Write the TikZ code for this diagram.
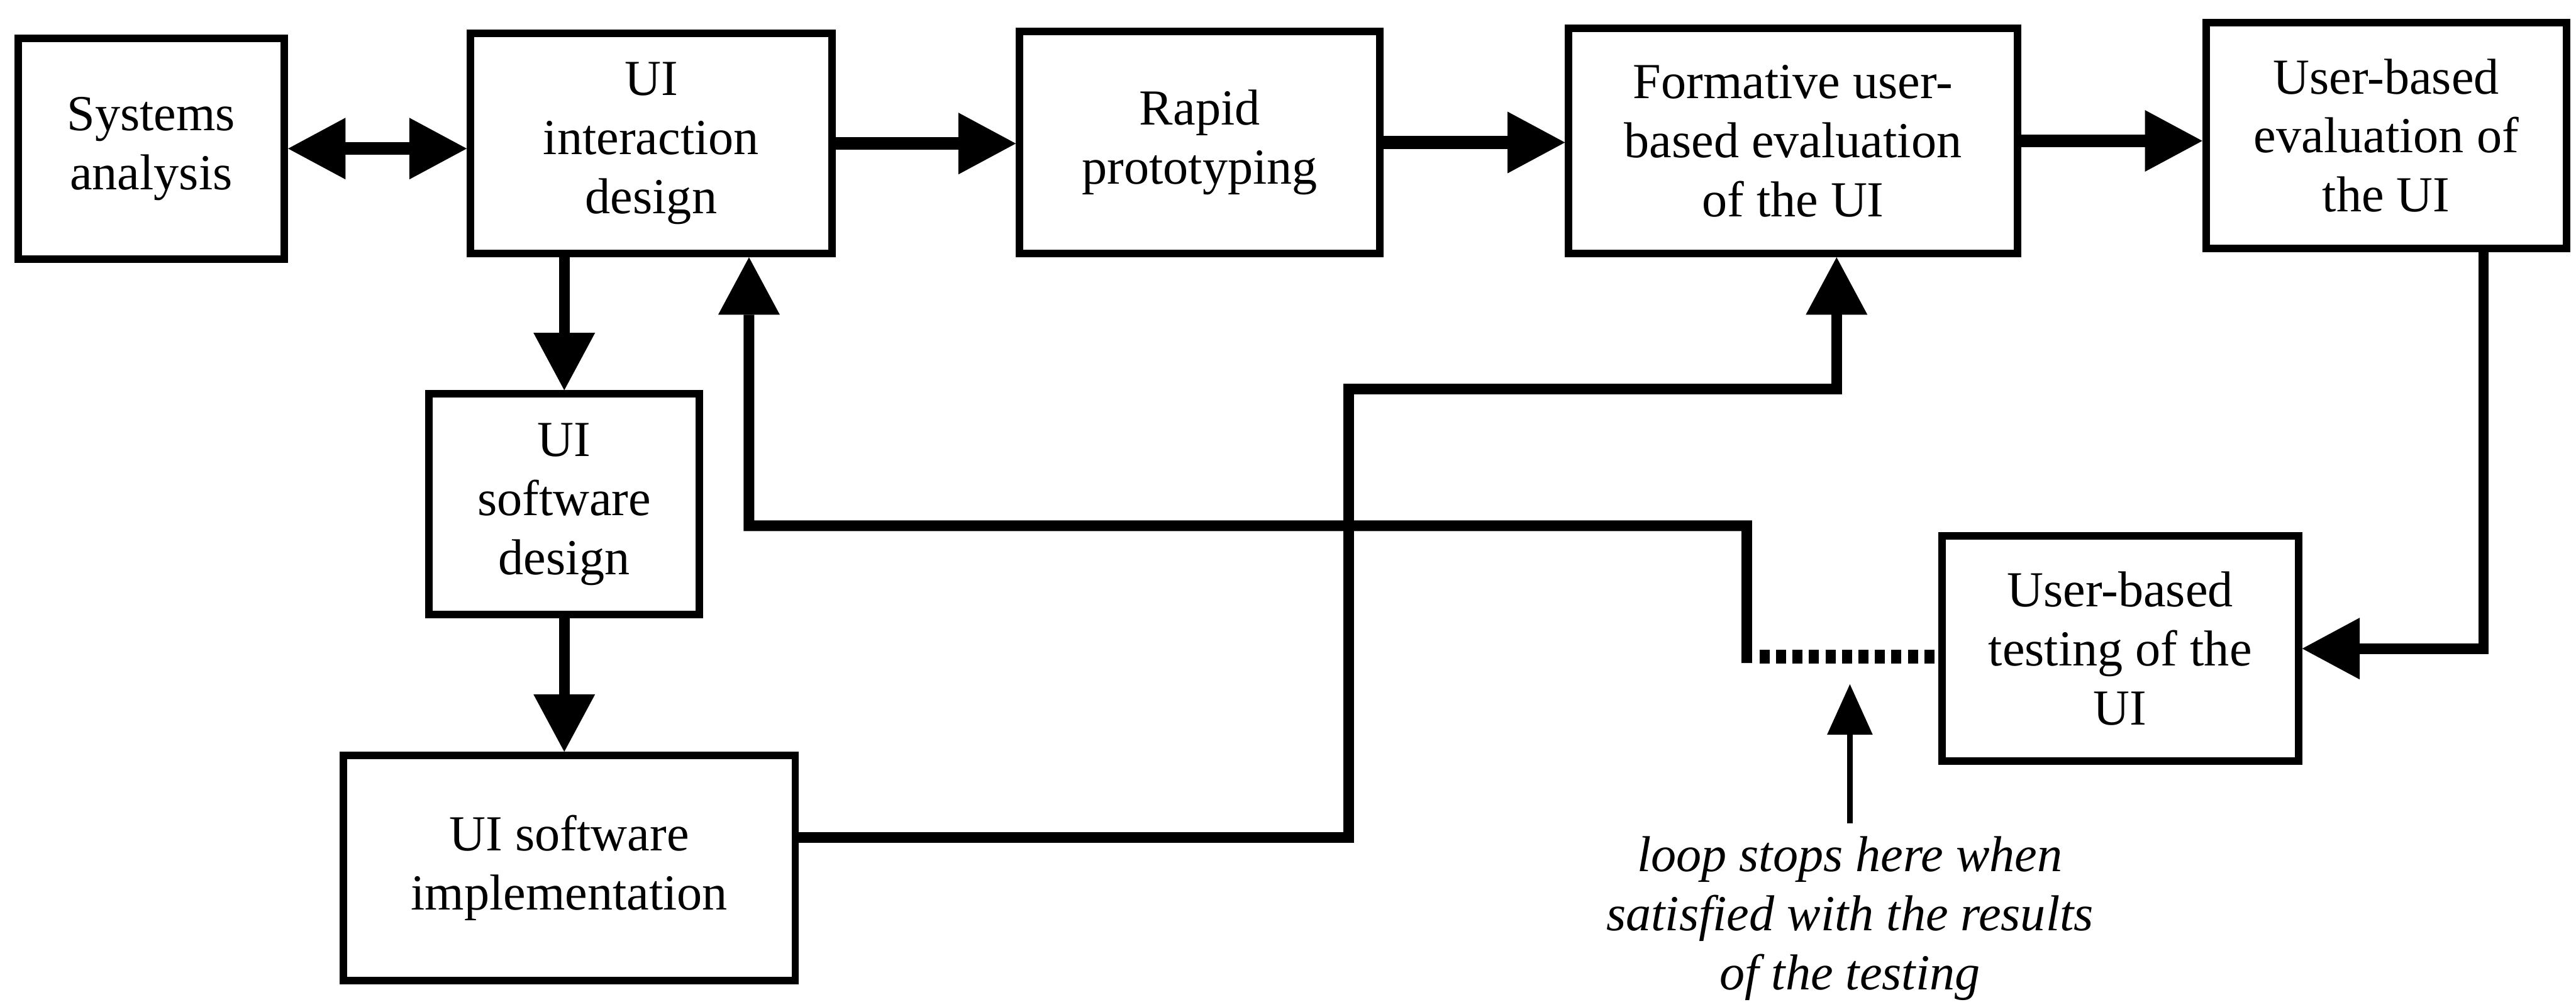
\documentclass[tikz,border=0pt]{standalone}
\usepackage{fontspec}
\setmainfont{Liberation Serif}
\usetikzlibrary{arrows.meta,calc}

\begin{document}
\begin{tikzpicture}[
  box/.style={draw, line width=0.14cm, align=center, inner sep=0pt,
              font=\fontsize{27}{31.6}\selectfont},
  conn/.style={line width=0.2cm, line join=miter},
  hconn/.style={line width=0.24cm},
  dotline/.style={line width=0.26cm, dash pattern=on 0.19cm off 0.12cm},
  note/.style={align=center, inner xsep=0pt, inner ysep=0.25cm,
               font=\fontsize{27}{31.6}\selectfont\itshape},
  bigarr/.tip={Triangle[length=1.08cm,width=1.16cm,line width=0pt]},
  smallarr/.tip={Triangle[length=0.95cm,width=0.86cm,line width=0pt]}
]
\useasboundingbox (0,0) rectangle (48.46,-18.94);

% process boxes
\node[box, minimum width=5.01cm, minimum height=4.15cm] (sys)    at (2.845,-2.795) {Systems\\analysis};
\node[box, minimum width=6.80cm, minimum height=4.14cm] (uiid)   at (12.25,-2.70)  {UI\\interaction\\design};
\node[box, minimum width=6.78cm, minimum height=4.18cm] (rapid)  at (22.57,-2.68)  {Rapid\\prototyping};
\node[box, minimum width=8.44cm, minimum height=4.24cm] (form)   at (33.73,-2.65)  {Formative user-\\based evaluation\\of the UI};
\node[box, minimum width=6.78cm, minimum height=4.24cm] (eval)   at (44.89,-2.55)  {User-based\\evaluation of\\the UI};
\node[box, minimum width=5.09cm, minimum height=4.15cm] (uisd)   at (10.615,-9.485){UI\\software\\design};
\node[box, minimum width=8.50cm, minimum height=4.23cm] (uiimpl) at (10.71,-16.325){UI software\\implementation};
\node[box, minimum width=6.71cm, minimum height=4.24cm] (test)   at (39.885,-12.20){User-based\\testing of the\\UI};

% annotation
\node[note] (note) at (34.80,-17.28) {loop stops here when\\satisfied with the results\\of the testing};

% bend points and free ends
\coordinate (fbin)    at ([xshift=1.84cm]uiid.south);
\coordinate (fbk)     at (14.09,-9.89);
\coordinate (loopx)   at (32.86,-12.47);
\coordinate (loopdot) at (32.86,-12.35);
\coordinate (implout) at ([yshift=0.575cm]uiimpl.east);
\coordinate (jb)      at (25.37,-7.32);
\coordinate (formin)  at ([xshift=0.82cm]form.south);
\coordinate (evout)   at ([xshift=1.83cm]eval.south);
\coordinate (stoptip) at (34.80,-12.87);

% main flow
\draw[hconn, {bigarr}-{bigarr}] (sys.east) -- (sys.east -| uiid.west);
\draw[hconn, -{bigarr}] (uiid.east) -- (uiid.east -| rapid.west);
\draw[hconn, -{bigarr}] (rapid.east) -- (rapid.east -| form.west);
\draw[hconn, -{bigarr}] (form.east) -- (form.east -| eval.west);
\draw[conn, -{bigarr}] (uisd.north |- uiid.south) -- (uisd.north);
\draw[conn, -{bigarr}] (uisd.south) -- (uisd.south |- uiimpl.north);

% implementation feeds the formative evaluation
\draw[conn, -{bigarr}] (implout) -| (jb) -| (formin);

% evaluation leads to testing
\draw[conn, -{bigarr}] (evout) |- (test.east);

% iteration loop back to interaction design
\draw[conn, -{bigarr}] (loopx) |- (fbk) -- (fbin);
\draw[dotline] ([xshift=0.24cm]loopdot) -- (loopdot -| test.west);

% stopping point
\draw[line width=0.11cm, -{smallarr}] (note.north) -- (stoptip);
\end{tikzpicture}
\end{document}
